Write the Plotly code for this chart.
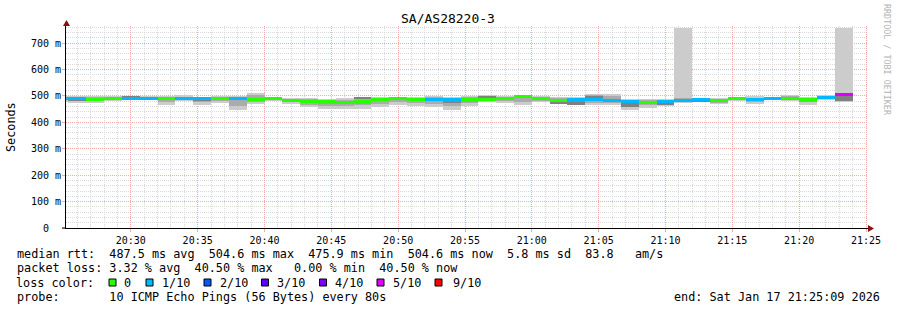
import pandas as pd
import plotly.graph_objects as go

# ---------------- data ----------------
chart_title = "SA/AS28220-3"
bin_start = "2026-01-17 20:24:00"   # start of first (partial) 80 s bin
step_s = 80
x_range = ["2026-01-17 20:25:09", "2026-01-17 21:25:09"]

# median rtt per bin (ms)
median_ms = [489, 489, 487, 490, 492, 491, 490, 490, 489, 489, 490, 488, 491, 484, 479,
             477, 476, 477, 488, 490, 488, 488, 485, 485, 487, 490, 497, 490, 483, 485,
             486, 483, 479, 476, 480, 483, 487, 484, 489, 486, 492, 491, 485, 493, 505]
# loss class per bin (index into loss_labels)
loss_idx = [1, 1, 0, 0, 1, 1, 0, 1, 1, 0, 1,
            0, 0, 0, 0, 0, 0, 0, 0, 0, 0,
            1, 1, 0, 0, 0, 0, 0, 0, 1, 1, 1, 1, 0, 1, 1, 1, 0, 0, 1, 1, 0, 0, 1, 5]
# smoke: outer (all pings) range
smoke_lo = [478, 475, 475, 482, 488, 484, 466, 482, 466, 474, 446, 470, 482, 469, 458,
            452, 450, 450, 459, 467, 463, 459, 446, 463, 476, 474, 465, 476, 470, 465,
            467, 465, 448, 456, 462, 472, 476, 469, 482, 469, 484, 482, 467, 484, 479]
smoke_hi = [500, 500, 500, 500, 500, 500, 500, 502, 498, 499, 499, 511, 498, 494, 492,
            490, 491, 494, 497, 497, 496, 500, 497, 499, 504, 499, 504, 499, 497, 497,
            507, 507, 489, 487, 489, 757, 492, 492, 498, 499, 497, 504, 497, 504, 757]
# smoke: middle pings range
mid_lo = [483, 481, 480, 485, 490, 487, 476, 485, 476, 480, 462, 478, 485, 476, 466,
          463, 462, 464, 470, 476, 473, 471, 462, 472, 481, 480, 477, 482, 474, 469,
          475, 472, 459, 464, 466, 476, 479, 475, 485, 476, 487, 485, 476, 487, 482]
mid_hi = [496, 496, 496, 497, 499, 497, 496, 498, 495, 496, 496, 503, 496, 490, 488,
          486, 485, 497, 494, 495, 493, 496, 494, 495, 500, 496, 501, 496, 491, 492,
          503, 500, 485, 484, 486, 494, 490, 489, 495, 494, 496, 500, 493, 501, 505]
# smoke: core pings range
core_lo = [486, 484, 482, 487, 495, 488, 487, 487, 483, 486, 486, 485, 488, 480, 476,
           474, 472, 489, 484, 487, 485, 485, 476, 482, 480, 487, 494, 487, 473, 466,
           481, 478, 460, 472, 464, 480, 480, 481, 487, 483, 489, 488, 483, 490, 480]
core_hi = [490, 489, 489, 490, 499, 491, 490, 490, 487, 489, 489, 490, 491, 486, 479,
           477, 476, 497, 488, 490, 488, 488, 479, 485, 500, 490, 497, 490, 478, 480,
           500, 483, 473, 476, 472, 483, 483, 483, 489, 486, 492, 491, 488, 493, 500]

loss_labels = ["0", "1/10", "2/10", "3/10", "4/10", "5/10", "9/10"]
loss_colors = ["#26ff00", "#00b8ff", "#0059ff", "#5e00ff", "#7e00ff", "#dd00ff", "#ff0000"]

y_tickvals = [0, 100, 200, 300, 400, 500, 600, 700]
y_ticktext = ["0\u00a0\u00a0", "100 m", "200 m", "300 m", "400 m", "500 m", "600 m", "700 m"]
y_range = [0, 765]

stats_lines = [
    "median rtt:  487.5 ms avg  504.6 ms max  475.9 ms min  504.6 ms now  5.8 ms sd  83.8   am/s",
    "packet loss: 3.32 % avg  40.50 % max   0.00 % min  40.50 % now",
    "loss color:",
    "probe:       10 ICMP Echo Pings (56 Bytes) every 80s",
]
end_text = "end: Sat Jan 17 21:25:09 2026"
watermark = "RRDTOOL / TOBI OETIKER"

# ---------------- layout helpers ----------------
W, H = 897, 310
L, R, T, B = 66, 29, 26, 82
PW, PH = W - L - R, H - T - B
MONO = "DejaVu Sans Mono"
TXT = 11.8


def px(x):
    return (x - L) / PW


def py(y):
    return (H - B - y) / PH


n = len(median_ms)
starts = pd.date_range(start=bin_start, periods=n, freq=f"{step_s}s")
centers = starts + pd.Timedelta(seconds=step_s / 2)
width_ms = step_s * 1000

fig = go.Figure()


def band(lo, hi, color):
    fig.add_trace(go.Bar(
        x=centers, y=[h - l for l, h in zip(lo, hi)], base=lo, width=width_ms,
        marker=dict(color=color, line=dict(width=0)),
        hoverinfo="skip", showlegend=False))


band(smoke_lo, smoke_hi, "#cccccc")
band(mid_lo, mid_hi, "#ababab")
band(core_lo, core_hi, "#808080")

half = 6.0
fig.add_trace(go.Bar(
    x=centers, y=[2 * half] * n, base=[m - half for m in median_ms], width=width_ms,
    marker=dict(color=[loss_colors[i] for i in loss_idx], line=dict(width=0)),
    hoverinfo="skip", showlegend=False))

major_grid = "#f3aaaa"
minor_grid = "#d9d9d9"
dots = "1px,1px"

fig.update_layout(
    width=W, height=H, margin=dict(l=L, r=R, t=T, b=B, pad=0),
    paper_bgcolor="white", plot_bgcolor="white",
    barmode="overlay", bargap=0, showlegend=False,
    font=dict(family=MONO, size=10, color="black"),
    xaxis=dict(
        type="date", range=x_range, tick0="2026-01-17 20:30:00", dtick=300000,
        tickformat="%H:%M", showgrid=True, gridcolor=major_grid, griddash=dots, gridwidth=1,
        minor=dict(dtick=60000, tick0="2026-01-17 20:30:00", showgrid=True,
                   gridcolor=minor_grid, griddash=dots, ticks=""),
        showline=True, linecolor="black", linewidth=1, zeroline=False,
        ticks="outside", ticklen=3, tickcolor=major_grid,
        tickfont=dict(family=MONO, size=10, color="black"),
    ),
    yaxis=dict(
        range=y_range, tickvals=y_tickvals, ticktext=y_ticktext,
        showgrid=True, gridcolor=major_grid, griddash=dots, gridwidth=1,
        minor=dict(dtick=20, tick0=0, showgrid=True, gridcolor=minor_grid,
                   griddash=dots, ticks=""),
        showline=True, linecolor="black", linewidth=1, zeroline=False,
        ticks="outside", ticklen=3, tickcolor=major_grid, ticklabelstandoff=-1,
        tickfont=dict(family=MONO, size=10, color="black"),
    ),
)

shapes = []
# axis extensions and arrows
shapes.append(dict(type="line", xref="paper", yref="paper", x0=px(66), x1=px(66),
                   y0=py(26), y1=py(22), line=dict(color="black", width=1)))
shapes.append(dict(type="path", xref="paper", yref="paper",
                   path=f"M {px(63)},{py(26)} L {px(66.5)},{py(20)} L {px(70)},{py(26)} Z",
                   fillcolor="#8b1010", line=dict(width=0)))
shapes.append(dict(type="line", xref="paper", yref="paper", x0=px(62), x1=px(66),
                   y0=py(228), y1=py(228), line=dict(color="black", width=1)))
shapes.append(dict(type="line", xref="paper", yref="paper", x0=px(868), x1=px(870),
                   y0=py(228), y1=py(228), line=dict(color="black", width=1)))
shapes.append(dict(type="path", xref="paper", yref="paper",
                   path=f"M {px(868)},{py(225)} L {px(874)},{py(228.5)} L {px(868)},{py(232)} Z",
                   fillcolor="#8b1010", line=dict(width=0)))

annotations = []
annotations.append(dict(text=chart_title, x=px(448), y=py(19), xref="paper", yref="paper",
                        xanchor="center", yanchor="middle", showarrow=False,
                        font=dict(family=MONO, size=13, color="black")))
annotations.append(dict(text="Seconds", x=px(11), y=py(127), xref="paper", yref="paper",
                        xanchor="center", yanchor="middle", showarrow=False, textangle=-90,
                        font=dict(family=MONO, size=TXT, color="black")))
annotations.append(dict(text=watermark, x=px(887), y=py(60), xref="paper", yref="paper",
                        xanchor="center", yanchor="middle", showarrow=False, textangle=90,
                        font=dict(family=MONO, size=8.4, color="#b4b4b4")))

row_y = [254.3, 268.4, 282.6, 296.7]
for txt, yy in zip(stats_lines, row_y):
    annotations.append(dict(text=txt.replace(" ", "\u00a0"), x=px(15.5), y=py(yy),
                            xref="paper", yref="paper", xanchor="left", yanchor="middle",
                            showarrow=False, borderpad=0,
                            font=dict(family=MONO, size=TXT, color="black")))
annotations.append(dict(text=end_text.replace(" ", "\u00a0"), x=px(881), y=py(row_y[3]),
                        xref="paper", yref="paper", xanchor="right", yanchor="middle",
                        showarrow=False, borderpad=0,
                        font=dict(family=MONO, size=TXT, color="black")))

sq_x = [109, 146, 204, 261.5, 319.5, 377, 435]
lab_x = [123, 161, 218.5, 276, 334, 391.5, 451.5]
for sx, lx, lab, col in zip(sq_x, lab_x, loss_labels, loss_colors):
    shapes.append(dict(type="rect", xref="paper", yref="paper",
                       x0=px(sx), x1=px(sx + 7), y0=py(286), y1=py(279),
                       fillcolor=col, line=dict(color="black", width=1)))
    annotations.append(dict(text=lab, x=px(lx), y=py(row_y[2]), xref="paper", yref="paper",
                            xanchor="left", yanchor="middle", showarrow=False, borderpad=0,
                            font=dict(family=MONO, size=TXT, color="black")))

fig.update_layout(shapes=shapes, annotations=annotations)
fig.write_html("out.html")
